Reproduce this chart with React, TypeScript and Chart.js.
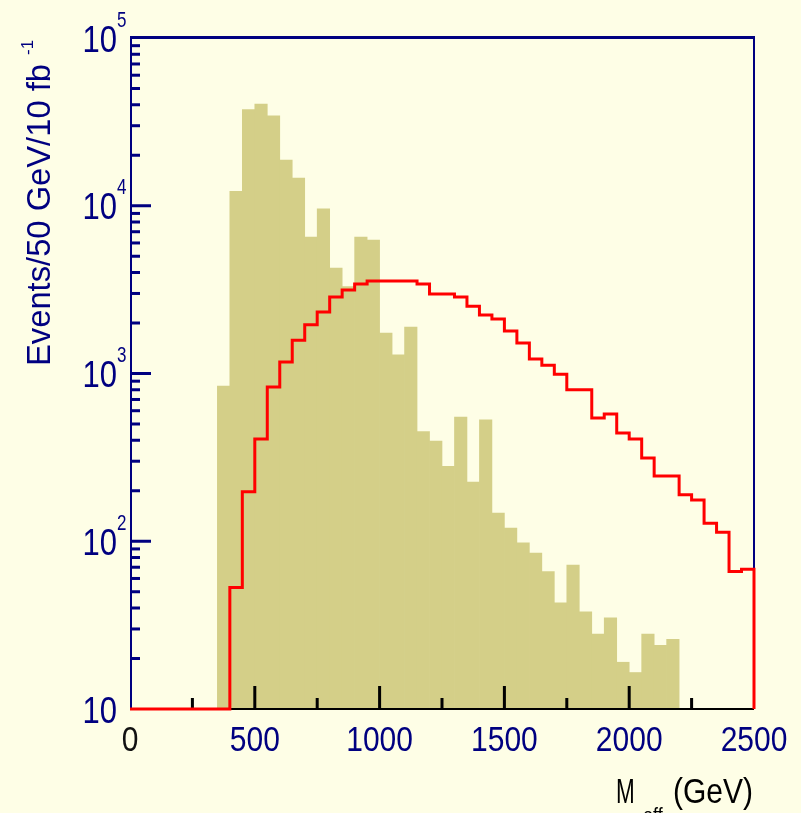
import React, { useEffect, useRef } from "react";
import { Chart, registerables } from "chart.js";

Chart.register(...registerables);

// Effective-mass histogram, 50 GeV bins from 0 to 2500 GeV
const BIN_WIDTH = 50;
const X_MIN = 0;
const X_MAX = 2500;
const Y_MIN = 10;
const Y_MAX = 100000;

// Standard Model background (filled histogram), events per bin
const BACKGROUND = [
  0, 0, 0, 0, 0, 0, 0, 840, 12200, 37500,
  40400, 34300, 18700, 14600, 6500, 9600, 4250, 3300, 6500, 6250,
  1740, 1290, 1890, 450, 395, 280, 550, 225, 530, 147,
  120, 98, 85, 66, 43, 72, 38, 28, 35, 19,
  16.5, 28, 24, 26, 0, 0, 0, 0, 0, 0,
];

// SUSY signal (red outline histogram), events per bin
const SIGNAL = [
  0, 0, 0, 0, 0, 0, 0, 0, 53, 197,
  407, 830, 1170, 1580, 1950, 2330, 2860, 3150, 3420, 3560,
  3560, 3560, 3560, 3420, 2980, 2980, 2860, 2520, 2230, 2110,
  1790, 1520, 1220, 1120, 990, 800, 800, 543, 574, 442,
  407, 313, 245, 245, 189, 176, 128, 113, 66, 68,
];

const X_MAJOR_TICKS = [0, 500, 1000, 1500, 2000, 2500];
const X_MINOR_TICKS = [250, 750, 1250, 1750, 2250];
const Y_DECADES = [1, 2, 3, 4, 5];

const X_TITLE_MAIN = "M";
const X_TITLE_SUB = "eff";
const X_TITLE_UNIT = "(GeV)";
const Y_TITLE = "Events/50 GeV/10 fb";
const Y_TITLE_SUP = "-1";

const BG = "#FEFEE6";
const OLIVE = "#D4CF88";
const RED = "#FF0000";
const NAVY = "#000080";
const FONT = '"Liberation Sans", Arial, Helvetica, sans-serif';

function drawText(
  ctx: CanvasRenderingContext2D,
  s: string,
  x: number,
  y: number,
  size: number,
  color: string,
  align: CanvasTextAlign = "left",
  sx = 1,
  sy = 1
) {
  ctx.save();
  ctx.translate(x, y);
  ctx.scale(sx, sy);
  ctx.font = `${size}px ${FONT}`;
  ctx.fillStyle = color;
  ctx.textAlign = align;
  ctx.textBaseline = "alphabetic";
  ctx.fillText(s, 0, 0);
  ctx.restore();
}

const histFrame = {
  id: "histFrame",
  beforeDraw(chart: any) {
    const ctx = chart.ctx as CanvasRenderingContext2D;
    ctx.save();
    ctx.fillStyle = BG;
    ctx.fillRect(0, 0, chart.width, chart.height);
    ctx.restore();
  },
  beforeDatasetDraw(chart: any, args: any) {
    if (args.meta.type !== "line") return;
    const ctx = chart.ctx as CanvasRenderingContext2D;
    const { left, right, top, bottom } = chart.chartArea;
    const xs = chart.scales.x;
    const ys = chart.scales.y;
    ctx.save();

    // frame: navy top, left and right, black bottom axis
    ctx.fillStyle = NAVY;
    ctx.fillRect(left, top - 2, right - left + 1, 3);
    ctx.fillRect(left, top - 2, 2, bottom - top + 3);
    ctx.fillRect(right - 1, top - 2, 2, bottom - top + 2);
    ctx.fillStyle = "#000000";
    ctx.fillRect(left, bottom - 1, right - left, 2);

    // x ticks, pointing up into the plot
    for (const v of X_MAJOR_TICKS) {
      if (v === X_MIN || v === X_MAX) continue;
      const px = xs.getPixelForValue(v);
      ctx.fillRect(px - 1.5, bottom - 23, 3, 23);
    }
    for (const v of X_MINOR_TICKS) {
      const px = xs.getPixelForValue(v);
      ctx.fillRect(px - 1.5, bottom - 11, 3, 11);
    }

    // log y ticks, pointing right into the plot
    ctx.fillStyle = NAVY;
    for (const e of Y_DECADES) {
      for (let m = 1; m <= 9; m++) {
        const v = m * Math.pow(10, e);
        if (v > Y_MAX) break;
        if (v === Y_MIN || v === Y_MAX) continue;
        const py = ys.getPixelForValue(v);
        const len = m === 1 ? 21 : 10;
        ctx.fillRect(left, py - 1.5, len, 3);
      }
    }
    ctx.restore();
  },
  afterDraw(chart: any) {
    const ctx = chart.ctx as CanvasRenderingContext2D;
    const xs = chart.scales.x;
    const ys = chart.scales.y;

    // y tick labels: 10, 10^2 ... 10^5
    for (const e of Y_DECADES) {
      const py = ys.getPixelForValue(Math.pow(10, e));
      drawText(ctx, "10", 117, py + 13.5, 31, NAVY, "right", 1, 1.17);
      if (e > 1) {
        drawText(ctx, String(e), 117, py - 11.5, 17, NAVY, "left", 1, 1.25);
      }
    }

    // x tick labels
    for (const v of X_MAJOR_TICKS) {
      const px = xs.getPixelForValue(v);
      const color = v === 0 ? "#111111" : NAVY;
      drawText(ctx, String(v), px, 751, 30, color, "center", 1, 1.17);
    }

    // x axis title
    drawText(ctx, X_TITLE_MAIN, 616, 803, 30, "#000000", "left", 0.75, 1.17);
    drawText(ctx, X_TITLE_SUB, 643, 822, 18, "#000000", "left", 1, 1.17);
    drawText(ctx, X_TITLE_UNIT, 673, 803, 30, "#000000", "left", 1, 1.17);

    // y axis title, rotated
    ctx.save();
    ctx.translate(50, 366);
    ctx.rotate(-Math.PI / 2);
    ctx.font = `33px ${FONT}`;
    const w = ctx.measureText(Y_TITLE).width;
    const sx = 302 / w;
    drawText(ctx, Y_TITLE, 0, 0, 33, NAVY, "left", sx, 1.02);
    drawText(ctx, Y_TITLE_SUP, 311, -17, 17, NAVY, "left", 1, 1);
    ctx.restore();
  },
};

export default function App() {
  const canvasRef = useRef<HTMLCanvasElement | null>(null);

  useEffect(() => {
    const canvas = canvasRef.current;
    if (!canvas) return;

    const barData = BACKGROUND.map((v, i) => ({
      x: X_MIN + BIN_WIDTH * i + BIN_WIDTH / 2,
      y: v,
    }));
    // outline: each bin value holds from its low edge to the next edge
    const stepData = SIGNAL.map((v, i) => ({
      x: X_MIN + BIN_WIDTH * i,
      y: Math.max(v, Y_MIN),
    }));
    stepData.push({ x: X_MAX, y: Y_MIN });

    const chart = new Chart(canvas, {
      type: "bar",
      data: {
        datasets: [
          {
            type: "bar",
            label: "Background",
            data: barData as any,
            backgroundColor: OLIVE,
            borderWidth: 0,
            barPercentage: 1,
            categoryPercentage: 1,
            grouped: false,
            order: 1,
          },
          {
            type: "line",
            label: "Signal",
            data: stepData as any,
            stepped: "before",
            borderColor: RED,
            borderWidth: 3,
            borderJoinStyle: "miter",
            borderCapStyle: "butt",
            pointRadius: 0,
            fill: false,
            clip: false as any,
            order: 0,
          },
        ],
      },
      options: {
        responsive: false,
        animation: false,
        devicePixelRatio: 1,
        events: [],
        layout: { padding: { left: 130, right: 47, top: 38, bottom: 104 } },
        plugins: {
          legend: { display: false },
          tooltip: { enabled: false },
        },
        scales: {
          x: {
            type: "linear",
            min: X_MIN,
            max: X_MAX,
            offset: false,
            display: false,
          },
          y: {
            type: "logarithmic",
            min: Y_MIN,
            max: Y_MAX,
            display: false,
          },
        },
      },
      plugins: [histFrame],
    });

    return () => chart.destroy();
  }, []);

  return (
    <div style={{ position: "fixed", left: 0, top: 0, width: 801, height: 813 }}>
      <canvas ref={canvasRef} width={801} height={813} style={{ display: "block" }} />
    </div>
  );
}
